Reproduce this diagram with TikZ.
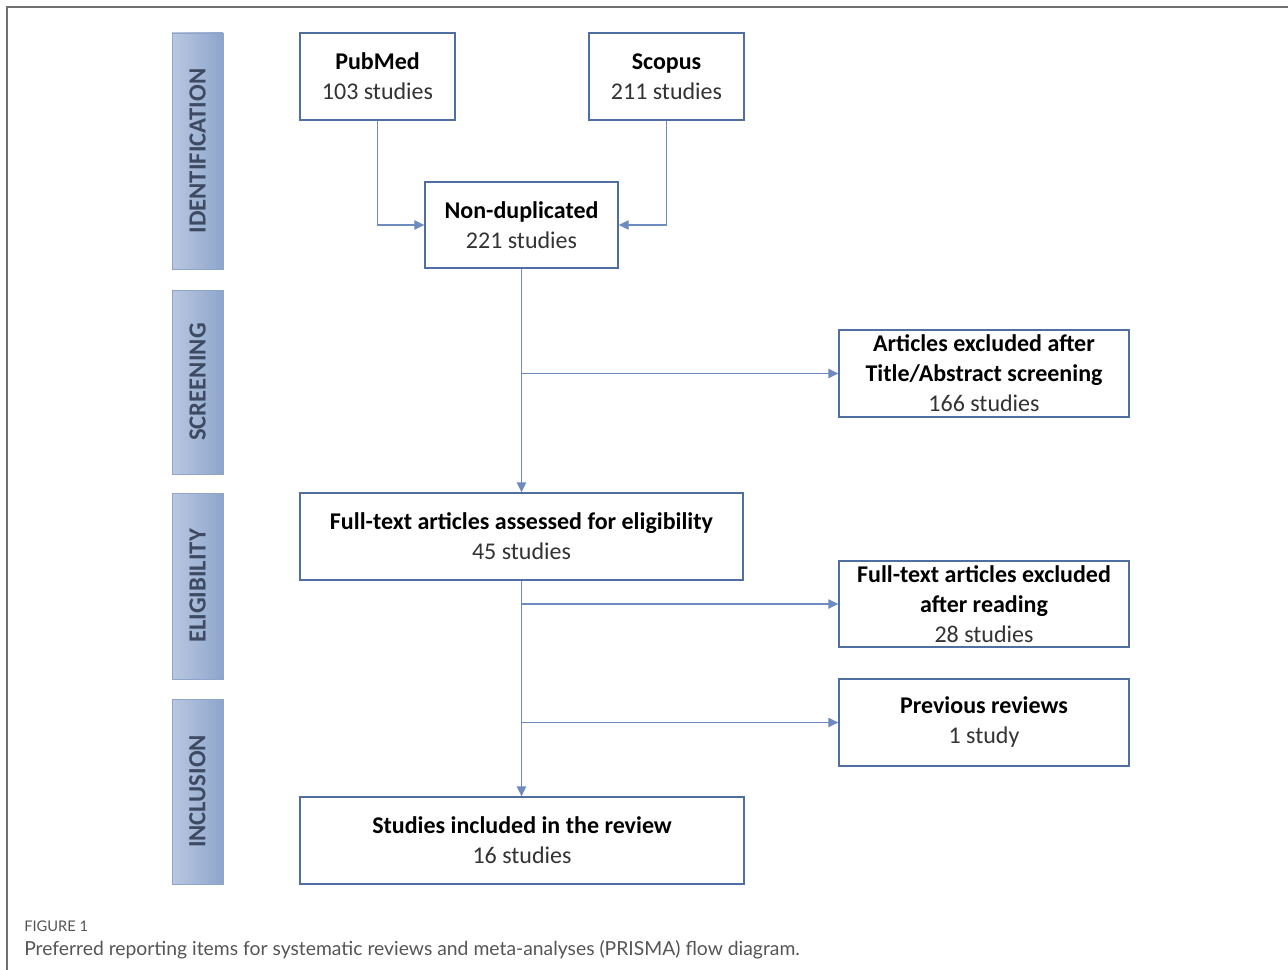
\documentclass[tikz,border=0pt]{standalone}
\usepackage{fontspec}
\setmainfont{Carlito}
\newfontfamily\capfont{Lato}
\usetikzlibrary{arrows.meta,positioning}
\definecolor{boxcol}{HTML}{4F6FA3}
\definecolor{linecol}{HTML}{6E8BC0}
\definecolor{barlight}{HTML}{BAC8E0}
\definecolor{bardark}{HTML}{8DA5CC}
\definecolor{barline}{HTML}{8FA4CB}
\definecolor{bartext}{HTML}{3E4A62}
\definecolor{numcol}{HTML}{333333}
\definecolor{framecol}{HTML}{707070}
\definecolor{capcol}{HTML}{555555}
\tikzset{
  box/.style={draw=boxcol, line width=1pt, fill=white, align=center, inner sep=0pt,
    font=\fontsize{18}{22.5}\selectfont},
  bar/.style={draw=barline, line width=0.6pt, rotate=90, left color=barlight, right color=bardark,
    inner sep=0pt, text=bartext, font=\fontsize{18.5}{20}\selectfont\bfseries},
  conn/.style={draw=linecol, line width=0.9pt},
  arr/.style={conn, -{Triangle[length=7.5pt,width=7pt]}},
}
\newcommand{\ttl}[1]{\textbf{#1}}
\newcommand{\num}[1]{\textcolor{numcol}{#1}}
\begin{document}
\begin{tikzpicture}[x=0.75pt,y=-0.75pt]
\useasboundingbox (0,0) rectangle (1288,970);
% frame
\draw[framecol, line width=1.1pt] (7,970) -- (7,7) -- (1288,7);
% side bars (height/width swapped because rotated)
\node[bar, minimum width={236*0.75pt}, minimum height={51*0.75pt}] (bid) at (197.5,151) {IDENTIFICATION};
\node[bar, minimum width={184*0.75pt}, minimum height={51*0.75pt}] (bsc) at (197.5,382) {SCREENING};
\node[bar, minimum width={186*0.75pt}, minimum height={51*0.75pt}] (bel) at (197.5,586) {ELIGIBILITY};
\node[bar, minimum width={185*0.75pt}, minimum height={51*0.75pt}] (bin) at (197.5,791.5) {INCLUSION};
% boxes
\node[box, minimum width={155*0.75pt}, minimum height={87*0.75pt}] (pub) at (377.5,76.5) {\ttl{PubMed}\\\num{103 studies}};
\node[box, minimum width={155*0.75pt}, minimum height={87*0.75pt}] (sco) at (666.5,76.5) {\ttl{Scopus}\\\num{211 studies}};
\node[box, minimum width={193*0.75pt}, minimum height={86*0.75pt}] (nd) at (521.5,225) {\ttl{Non-duplicated}\\\num{221 studies}};
\node[box, minimum width={290*0.75pt}, minimum height={87*0.75pt}] (ex1) at (984,373.5) {\ttl{Articles excluded after}\\\ttl{Title/Abstract screening}\\\num{166 studies}};
\node[box, minimum width={443*0.75pt}, minimum height={87*0.75pt}] (ft) at (521.5,536.5) {\ttl{Full-text articles assessed for eligibility}\\\num{45 studies}};
\node[box, minimum width={290*0.75pt}, minimum height={86*0.75pt}] (ex2) at (984,604) {\ttl{Full-text articles excluded}\\\ttl{after reading}\\\num{28 studies}};
\node[box, minimum width={290*0.75pt}, minimum height={87*0.75pt}] (prev) at (984,722.5) {\ttl{Previous reviews}\\\num{1 study}};
\node[box, minimum width={444*0.75pt}, minimum height={87*0.75pt}] (inc) at (522,840.5) {\ttl{Studies included in the review}\\\num{16 studies}};
% connectors
\draw[arr] (pub.south) |- (nd.west);
\draw[arr] (sco.south) |- (nd.east);
\draw[arr] (nd.south) -- (nd.south |- ft.north);
\coordinate (j1) at (nd.south |- ex1.west);
\draw[arr] (j1) -- (ex1.west);
\draw[arr] (ft.south) -- (ft.south |- inc.north);
\coordinate (j2) at (ft.south |- ex2.west);
\draw[arr] (j2) -- (ex2.west);
\coordinate (j3) at (ft.south |- prev.west);
\draw[arr] (j3) -- (prev.west);
% caption
\node[anchor=base west, inner sep=0pt, text=capcol, font=\capfont\fontsize{11}{13}\selectfont] (fig) at (24,931) {FIGURE 1};
\node[anchor=base west, inner sep=0pt, text=capcol, font=\capfont\fontsize{14.5}{17}\selectfont] (cap) at (24,955) {Preferred reporting items for systematic reviews and meta-analyses (PRISMA) flow diagram.};
\end{tikzpicture}
\end{document}
